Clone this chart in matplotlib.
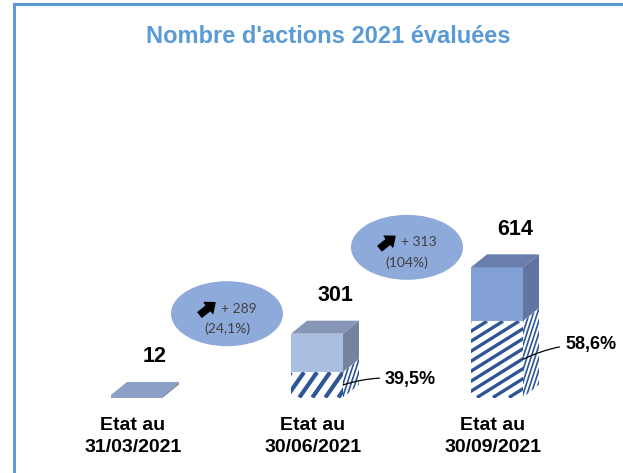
import numpy as np
import matplotlib
matplotlib.use('Agg')
import matplotlib.pyplot as plt
from matplotlib.patches import Polygon, Ellipse

# data
categories = ['Etat au\n31/03/2021', 'Etat au\n30/06/2021', 'Etat au\n30/09/2021']
values = [12, 301, 614]
share_pct = [0.0, 39.5, 58.6]
share_labels = ['', '39,5%', '58,6%']
delta_text = ['+ 289', '+ 313']
delta_pct_text = ['(24,1%)', '(104%)']

# style
front_col = ['#8da1c7', '#aabee1', '#829fd6']
top_col = ['#8b9ec4', '#8796b6', '#6a7eac']
side_col = ['#7d8db0', '#74839f', '#6175a3']
stripe_col = '#2e5596'
stripe_angle = [55, 55, 32]
stripe_step = [13, 13, 16]
stripe_lw = [3.0, 3.0, 2.4]
frame_col = '#5b9bd5'
bold = dict(family='Liberation Sans', weight='bold')

fig = plt.figure(figsize=(6.23, 4.73), dpi=100)
fig.patch.set_facecolor('white')

# overlay in pixel coords (frame, title, bubbles)
ov = fig.add_axes([0, 0, 1, 1], zorder=3)
ov.set_xlim(0, 623)
ov.set_ylim(0, 473)
ov.axis('off')
ov.patch.set_alpha(0)

ax = fig.add_axes([47 / 623, 75.5 / 473, 540 / 623, 337.5 / 473], zorder=2)
ax.set_xlim(-0.5, 2.5)
ax.set_ylim(0, 337.5 / 0.212)
ax.axis('off')
ax.patch.set_alpha(0)

p0 = ax.transData.transform((0, 0))
p1 = ax.transData.transform((1, 1))
sx, sy = p1[0] - p0[0], p1[1] - p0[1]
W, DX, DY = 52 / sx, 16 / sx, 13 / sy


def stripes(face, angle, step, lw, zorder):
    poly = Polygon(face, closed=True, fc='white', ec='none', zorder=zorder)
    ax.add_patch(poly)
    pts = ax.transData.transform(face)
    x0, y0 = pts.min(0)
    x1, y1 = pts.max(0)
    run = (y1 - y0) / np.tan(np.radians(angle))
    inv = ax.transData.inverted()
    for xs in np.arange(x0 - run - step, x1 + step, step):
        d = inv.transform([[xs, y0], [xs + run, y1]])
        ln, = ax.plot(d[:, 0], d[:, 1], color=stripe_col, lw=lw,
                      solid_capstyle='butt', zorder=zorder + 0.1)
        ln.set_clip_path(poly)


for i, v in enumerate(values):
    xl, xr = i - W / 2, i + W / 2
    h = v * share_pct[i] / 100
    ax.add_patch(Polygon([(xl, h), (xr, h), (xr, v), (xl, v)],
                         fc=front_col[i], ec='none', zorder=2))
    ax.add_patch(Polygon([(xl, v), (xr, v), (xr + DX, v + DY), (xl + DX, v + DY)],
                         fc=top_col[i], ec='none', zorder=2))
    ax.add_patch(Polygon([(xr, h), (xr + DX, h + DY), (xr + DX, v + DY), (xr, v)],
                         fc=side_col[i], ec='none', zorder=2))
    if h > 0:
        stripes([(xl, 0), (xr, 0), (xr, h), (xl, h)],
                stripe_angle[i], stripe_step[i], stripe_lw[i], 2)
        stripes([(xr, 0), (xr + DX, DY), (xr + DX, h + DY), (xr, h)], 72, 4.0, 1.2, 2)
        ax.annotate(share_labels[i], xy=(xr, 0.5 * h), xytext=(xr + 42 / sx, 0.7 * h),
                    ha='left', va='center', fontsize=13, zorder=5,
                    arrowprops=dict(arrowstyle='-', color='black', lw=0.9,
                                    connectionstyle='arc3,rad=0.12',
                                    shrinkA=2, shrinkB=0), **bold)

    ax.annotate(str(v), xy=(i, v + DY), xytext=(18 * 0.72, 25 * 0.72),
                textcoords='offset points', ha='center', va='center',
                fontsize=15.5, **bold)
    ax.annotate(categories[i], xy=(i, 0), xytext=(-4 * 0.72, -39 * 0.72),
                textcoords='offset points', ha='center', va='center',
                fontsize=14, linespacing=1.45, **bold)

# growth bubbles between bars
for k in range(len(delta_text)):
    cx, cy = ax.transData.transform((k + 0.5, values[k + 1]))
    cy += 20
    ov.add_patch(Ellipse((cx, cy), 112, 65, fc='#8eaadb', ec='none'))
    ov.annotate('', xy=(cx - 12, cy + 11), xytext=(cx - 27, cy - 1),
                arrowprops=dict(arrowstyle='simple,head_length=0.6,head_width=1.0,tail_width=0.45',
                                fc='black', ec='black', mutation_scale=10,
                                shrinkA=0, shrinkB=0))
    ov.text(cx - 6, cy + 5, delta_text[k], ha='left', va='center',
            fontsize=10, family='Lato', color='#404040')
    ov.text(cx, cy - 15.5, delta_pct_text[k], ha='center', va='center',
            fontsize=10, family='Lato', color='#404040')

# title and frame
ov.text(328, 436, "Nombre d'actions 2021 évaluées", ha='center', va='center',
        fontsize=17, color=frame_col, **bold)
ov.plot([13.5, 13.5], [0, 468.5], color=frame_col, lw=2.2, solid_capstyle='projecting')
ov.plot([13.5, 623], [468.5, 468.5], color=frame_col, lw=2.2, solid_capstyle='projecting')

fig.savefig('out.png', dpi=100)
